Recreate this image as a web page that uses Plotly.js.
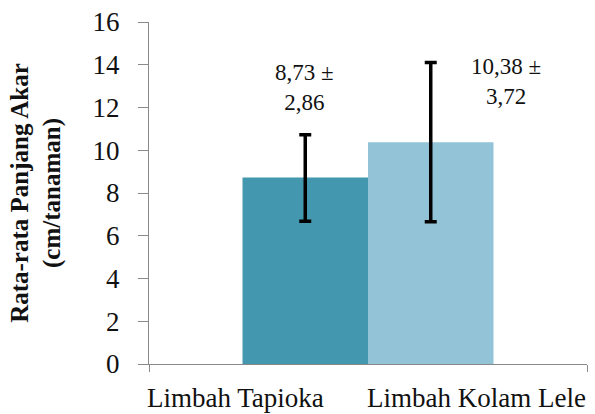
<!DOCTYPE html>
<html>
<head>
<meta charset="utf-8">
<script src="https://cdn.plot.ly/plotly-3.0.1.min.js"></script>
<style>html,body{margin:0;padding:0;background:#fff;}#chart{width:595px;height:414px;}</style>
</head>
<body>
<div id="chart"></div>
<script>
const seriesNames = ["Limbah Tapioka", "Limbah Kolam Lele"];
const category = [""];
const meanValues = [8.73, 10.38];
const errPlus = [2.0, 3.72];
const errMinus = [2.05, 3.72];
const valueLabels = ["8,73 ±<br>2,86", "10,38 ±<br>3,72"];
const barColors = ["#4397ae", "#93c3d6"];
const yTicks = [0, 2, 4, 6, 8, 10, 12, 14, 16];

const FONT = "Times New Roman";

const traces = seriesNames.map((name, i) => ({
  type: "bar",
  name: name,
  x: category,
  y: [meanValues[i]],
  marker: {color: barColors[i], line: {width: 0}},
  error_y: {type: "data", symmetric: false, array: [errPlus[i]], arrayminus: [errMinus[i]],
            color: "#000", thickness: 3.5, width: 6},
  hoverinfo: "skip"
}));

const labelPos = [{x: 304, y: 88}, {x: 506, y: 81}];
const namePos = [235, 476];
const annotations = [];
valueLabels.forEach((t, i) => annotations.push({
  text: t, xref: "paper", yref: "paper",
  x: (labelPos[i].x - 149) / 438, y: 1 - (labelPos[i].y - 22) / 342,
  xanchor: "center", yanchor: "middle", showarrow: false, align: "center",
  font: {family: FONT, size: 23}
}));
seriesNames.forEach((t, i) => annotations.push({
  text: t, xref: "paper", yref: "paper",
  x: (namePos[i] - 149) / 438, y: 1 - (398 - 22) / 342,
  xanchor: "center", yanchor: "middle", showarrow: false,
  font: {family: FONT, size: 27}
}));

const layout = {
  width: 595, height: 414,
  font: {family: FONT, color: "#111"},
  margin: {l: 149, r: 8, t: 22, b: 50},
  paper_bgcolor: "#fff", plot_bgcolor: "#fff",
  showlegend: false,
  barmode: "group", bargap: 0.427, bargroupgap: 0,
  xaxis: {
    type: "category", range: [-0.5, 0.5], showticklabels: false,
    showline: true, linecolor: "#8a8a8a", linewidth: 1,
    ticks: "outside", tickson: "boundaries", ticklen: 7, tickcolor: "#8a8a8a",
    showgrid: false, zeroline: false, fixedrange: true
  },
  yaxis: {
    range: [0, 16], tickvals: yTicks, ticktext: yTicks.map(String),
    showline: true, linecolor: "#8a8a8a", linewidth: 1,
    ticks: "outside", ticklen: 10, tickcolor: "#8a8a8a", ticklabelstandoff: 13,
    showgrid: false, zeroline: false,
    tickfont: {family: FONT, size: 27},
    title: {text: "<b>Rata-rata Panjang Akar<br>(cm/tanaman)</b>",
            font: {family: FONT, size: 25}, standoff: 24}
  },
  annotations: annotations
};

Plotly.newPlot("chart", traces, layout, {displayModeBar: false, staticPlot: true});
</script>
</body>
</html>
